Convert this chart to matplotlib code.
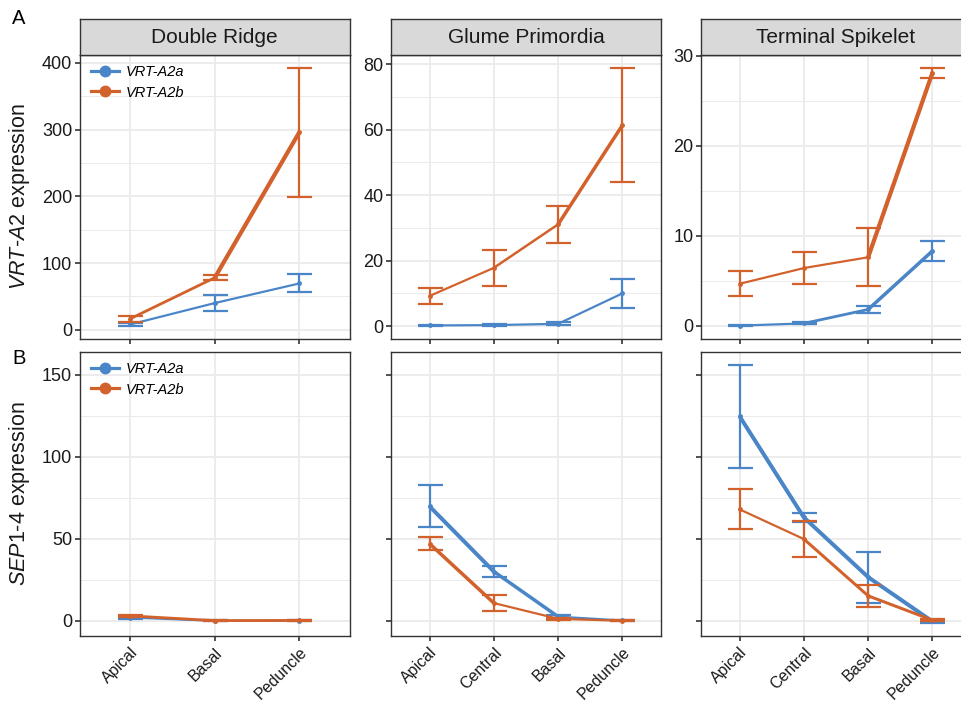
import matplotlib.pyplot as plt
from matplotlib.lines import Line2D
from matplotlib.ticker import MultipleLocator

plt.rcParams['font.family'] = ['Liberation Sans', 'DejaVu Sans']
plt.rcParams['mathtext.fontset'] = 'custom'
plt.rcParams['mathtext.rm'] = 'Liberation Sans'
plt.rcParams['mathtext.it'] = 'Liberation Sans:italic'

# ---- data -------------------------------------------------------------
stages = ['Double Ridge', 'Glume Primordia', 'Terminal Spikelet']
pos_dr = ['Apical', 'Basal', 'Peduncle']
pos_all = ['Apical', 'Central', 'Basal', 'Peduncle']

# row A: VRT-A2 expression
a_dr_a2a = [8.0, 40.0, 69.4]
a_dr_a2a_err = [2.5, 12.5, 13.5]
a_dr_a2b = [16.5, 78.0, 296.0]
a_dr_a2b_err = [4.5, 4.0, 96.5]

a_gp_a2a = [0.2, 0.3, 0.7, 10.0]
a_gp_a2a_err = [0.2, 0.2, 0.4, 4.4]
a_gp_a2b = [9.2, 17.8, 31.1, 61.4]
a_gp_a2b_err = [2.5, 5.5, 5.7, 17.5]

a_ts_a2a = [0.0, 0.25, 1.8, 8.3]
a_ts_a2a_err = [0.05, 0.12, 0.4, 1.1]
a_ts_a2b = [4.65, 6.4, 7.6, 28.1]
a_ts_a2b_err = [1.4, 1.8, 3.2, 0.55]

# row B: SEP1-4 expression
b_dr_a2a = [2.0, 0.0, 0.1]
b_dr_a2a_err = [0.7, 0.2, 0.2]
b_dr_a2b = [3.0, 0.1, 0.2]
b_dr_a2b_err = [0.7, 0.2, 0.2]

b_gp_a2a = [69.7, 30.0, 2.5, 0.2]
b_gp_a2a_err = [12.8, 3.6, 0.8, 0.3]
b_gp_a2b = [47.0, 10.8, 1.2, 0.0]
b_gp_a2b_err = [4.0, 5.1, 0.6, 0.3]

b_ts_a2a = [124.6, 63.0, 26.6, -0.4]
b_ts_a2a_err = [31.3, 2.8, 15.5, 1.0]
b_ts_a2b = [67.9, 49.8, 15.2, 0.4]
b_ts_a2b_err = [12.2, 11.2, 6.6, 0.8]

# ---- styling ------------------------------------------------------------
blue = '#4A85C7'
orange = '#D3612B'
border = '#333333'
gridc = '#EBEBEB'

# segment widths (px) between consecutive positions
seg_w = {
    ('A', 0): ([2.2, 2.2], [2.8, 4.2]),
    ('A', 1): ([2.2, 2.2, 2.2], [2.2, 2.5, 3.5]),
    ('A', 2): ([2.2, 2.8, 3.5], [2.2, 2.2, 4.2]),
    ('B', 0): ([2.2, 2.2], [2.8, 2.8]),
    ('B', 1): ([4, 3.5, 2.2], [3.5, 2.2, 2.2]),
    ('B', 2): ([4, 4, 4], [2.2, 3, 3]),
}

W, H = 962, 704
fig = plt.figure(figsize=(W / 100, H / 100), dpi=100)


def box(x0, y0, x1, y1):
    return [x0 / W, 1 - y1 / H, (x1 - x0) / W, (y1 - y0) / H]


cols = [(79.5, 350), (391, 661), (701, 971)]
row_a = (55, 339)
row_b = (352, 636)
strip_y = (18.5, 55)

panels = {
    'A': [(pos_dr, a_dr_a2a, a_dr_a2a_err, a_dr_a2b, a_dr_a2b_err),
          (pos_all, a_gp_a2a, a_gp_a2a_err, a_gp_a2b, a_gp_a2b_err),
          (pos_all, a_ts_a2a, a_ts_a2a_err, a_ts_a2b, a_ts_a2b_err)],
    'B': [(pos_dr, b_dr_a2a, b_dr_a2a_err, b_dr_a2b, b_dr_a2b_err),
          (pos_all, b_gp_a2a, b_gp_a2a_err, b_gp_a2b, b_gp_a2b_err),
          (pos_all, b_ts_a2a, b_ts_a2a_err, b_ts_a2b, b_ts_a2b_err)],
}
major_step = {('A', 0): 100, ('A', 1): 20, ('A', 2): 10,
              ('B', 0): 50, ('B', 1): 50, ('B', 2): 50}


def yrange(sets):
    lo = min(m - e for mm, ee in sets for m, e in zip(mm, ee))
    hi = max(m + e for mm, ee in sets for m, e in zip(mm, ee))
    pad = (hi - lo) * 0.05
    return lo - pad, hi + pad


# row B shares y across panels
b_sets = []
for p in panels['B']:
    b_sets += [(p[1], p[2]), (p[3], p[4])]
b_lim = yrange(b_sets)

for row, (y0, y1) in [('A', row_a), ('B', row_b)]:
    for i, (x0, x1) in enumerate(cols):
        cats, m1, e1, m2, e2 = panels[row][i]
        ax = fig.add_axes(box(x0, y0, x1, y1))
        xs = list(range(len(cats)))
        w1, w2 = seg_w[(row, i)]
        for mean, err, col, widths, z in [(m1, e1, blue, w1, 3), (m2, e2, orange, w2, 4)]:
            ax.errorbar(xs, mean, yerr=err, fmt='none', ecolor=col,
                        elinewidth=1.6, capsize=9, capthick=1.6, zorder=z)
            for k in range(len(xs) - 1):
                ax.plot(xs[k:k + 2], mean[k:k + 2], color=col,
                        lw=widths[k] * 0.72, solid_capstyle='butt', zorder=z)
            ax.plot(xs, mean, 'o', color=col, ms=2.5, zorder=z)
        ax.set_xlim(-0.6, len(cats) - 0.4)
        if row == 'A':
            ax.set_ylim(*yrange([(m1, e1), (m2, e2)]))
        else:
            ax.set_ylim(*b_lim)
        step = major_step[(row, i)]
        ax.yaxis.set_major_locator(MultipleLocator(step))
        ax.yaxis.set_minor_locator(MultipleLocator(step / 2))
        ax.set_xticks(xs)
        ax.grid(True, which='major', color=gridc, lw=1.3, zorder=0)
        ax.grid(True, which='minor', axis='y', color=gridc, lw=0.7, zorder=0)
        ax.set_axisbelow(True)
        for s in ax.spines.values():
            s.set_color(border)
            s.set_linewidth(1.0)
        ax.tick_params(which='major', direction='out', length=3.8, width=1.2,
                       color=border, labelsize=13, labelcolor='#1A1A1A', pad=1.5)
        ax.tick_params(which='minor', length=0)
        if row == 'A':
            ax.set_xticklabels([])
        else:
            ax.set_xticklabels(cats, rotation=45, ha='right', va='top',
                               rotation_mode='anchor', fontsize=11.5)
            ax.tick_params(axis='x', pad=2.5)
            if i > 0:
                ax.set_yticklabels([])

        if i == 0:
            handles = [Line2D([], [], color=blue, lw=2.3, marker='o', ms=7.5),
                       Line2D([], [], color=orange, lw=2.3, marker='o', ms=7.5)]
            ax.legend(handles, ['VRT-A2a', 'VRT-A2b'], loc='upper left',
                      bbox_to_anchor=(91 / W, 1 - (y0 + 10) / H),
                      bbox_transform=fig.transFigure, frameon=False,
                      prop={'style': 'italic', 'size': 10.5}, handlelength=1.9,
                      handletextpad=0.5, labelspacing=0.45, borderpad=0,
                      borderaxespad=0)

        if row == 'A':
            sx = fig.add_axes(box(x0, strip_y[0], x1, strip_y[1]))
            sx.set_facecolor('#D9D9D9')
            sx.set_xticks([])
            sx.set_yticks([])
            for s in sx.spines.values():
                s.set_color(border)
                s.set_linewidth(1.0)
            sx.text(0.5, 0.48, stages[i], ha='center', va='center',
                    fontsize=15, color='#1A1A1A', transform=sx.transAxes)

fig.text(20 / W, 1 - 197 / H, r'$\it{VRT}$-$\it{A2}$ expression', rotation=90,
         ha='center', va='center', fontsize=15.5, color='#1A1A1A')
fig.text(20 / W, 1 - 494 / H, r'$\it{SEP1}$-$\it{4}$ expression', rotation=90,
         ha='center', va='center', fontsize=15.5, color='#1A1A1A')
fig.text(19 / W, 1 - 19 / H, 'A', ha='center', va='center', fontsize=14.5)
fig.text(19 / W, 1 - 359 / H, 'B', ha='center', va='center', fontsize=14.5)

fig.savefig('out.png', dpi=100)
